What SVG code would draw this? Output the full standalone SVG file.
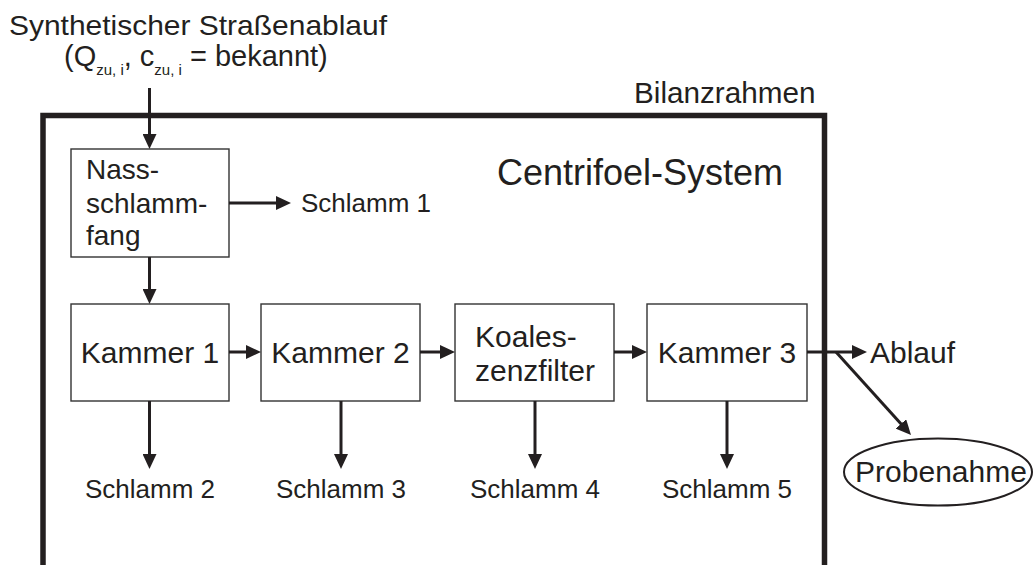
<svg xmlns="http://www.w3.org/2000/svg" width="1034" height="565" viewBox="0 0 1034 565">
  <defs>
    <marker id="ah" viewBox="0 0 15 14" markerWidth="15" markerHeight="14" refX="5" refY="7" orient="auto" markerUnits="userSpaceOnUse">
      <path d="M0,0 L15,7 L0,14 z" fill="#231f20"/>
    </marker>
    <style>
      text { font-family: "Liberation Sans", Arial, sans-serif; fill: #231f20; }
      .box { fill: #ffffff; stroke: #333333; stroke-width: 1.4; }
      .conn line { stroke: #231f20; stroke-width: 3; marker-end: url(#ah); }
      .bt { font-size: 30px; }
      .nt { font-size: 28px; }
      .sl { font-size: 26px; }
    </style>
  </defs>
  <rect width="1034" height="565" fill="#ffffff"/>

  <g id="title">
    <text x="9" y="35" font-size="28" textLength="378" lengthAdjust="spacingAndGlyphs">Synthetischer Straßenablauf</text>
    <text x="64" y="66" font-size="29">(Q<tspan font-size="15" dy="9">zu, i</tspan><tspan dy="-9">, c</tspan><tspan font-size="15" dy="9">zu, i</tspan><tspan dy="-9"> = bekannt)</tspan></text>
  </g>

  <g id="bilanzrahmen">
    <path d="M43,565 V115.5 H824.5 V565" fill="none" stroke="#231f20" stroke-width="5.5"/>
    <text x="634" y="103" font-size="29.7">Bilanzrahmen</text>
  </g>

  <g id="system-label">
    <text x="497" y="185" font-size="36">Centrifoel-System</text>
  </g>

  <g id="nassschlammfang">
    <rect class="box" x="71" y="149" width="158" height="108"/>
    <text class="nt" x="86" y="179">Nass-</text>
    <text class="nt" x="86" y="213">schlamm-</text>
    <text class="nt" x="86" y="245">fang</text>
  </g>

  <g id="kammer1">
    <rect class="box" x="71" y="304" width="158" height="97"/>
    <text class="bt" x="150" y="363" text-anchor="middle">Kammer 1</text>
  </g>

  <g id="kammer2">
    <rect class="box" x="261" y="304" width="159" height="97"/>
    <text class="bt" x="340.5" y="363" text-anchor="middle">Kammer 2</text>
  </g>

  <g id="koaleszenzfilter">
    <rect class="box" x="455" y="304" width="159" height="97"/>
    <text class="bt" x="475" y="347">Koales-</text>
    <text class="bt" x="475" y="381">zenzfilter</text>
  </g>

  <g id="kammer3">
    <rect class="box" x="647" y="304" width="160" height="97"/>
    <text class="bt" x="727" y="363" text-anchor="middle">Kammer 3</text>
  </g>

  <g id="schlamm1"><text class="sl" x="301" y="212">Schlamm 1</text></g>
  <g id="schlamm2"><text class="sl" x="150" y="498" text-anchor="middle">Schlamm 2</text></g>
  <g id="schlamm3"><text class="sl" x="341" y="498" text-anchor="middle">Schlamm 3</text></g>
  <g id="schlamm4"><text class="sl" x="535" y="498" text-anchor="middle">Schlamm 4</text></g>
  <g id="schlamm5"><text class="sl" x="727" y="498" text-anchor="middle">Schlamm 5</text></g>

  <g id="ablauf"><text x="870" y="363" font-size="30">Ablauf</text></g>

  <g id="probenahme">
    <ellipse cx="938" cy="472" rx="94" ry="33.5" fill="none" stroke="#231f20" stroke-width="2"/>
    <text x="941" y="482" font-size="30" text-anchor="middle">Probenahme</text>
  </g>

  <g id="connectors" class="conn">
    <line x1="149.5" y1="88" x2="149.5" y2="139"/>
    <line x1="229" y1="203" x2="281" y2="203"/>
    <line x1="149.5" y1="257" x2="149.5" y2="294"/>
    <line x1="229" y1="352" x2="251" y2="352"/>
    <line x1="420" y1="352" x2="445" y2="352"/>
    <line x1="614" y1="352" x2="637" y2="352"/>
    <line x1="807" y1="352" x2="857" y2="352"/>
    <line x1="836" y1="352" x2="904.3" y2="427.6"/>
    <line x1="149.5" y1="401" x2="149.5" y2="459"/>
    <line x1="341" y1="401" x2="341" y2="459"/>
    <line x1="535" y1="401" x2="535" y2="459"/>
    <line x1="727" y1="401" x2="727" y2="459"/>
  </g>
</svg>
